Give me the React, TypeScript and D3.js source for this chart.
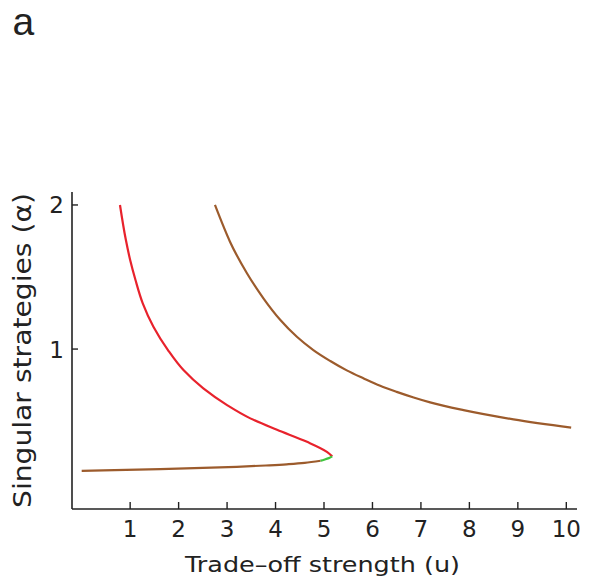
import React from "react";
import * as d3 from "d3";

const xTicks = [1, 2, 3, 4, 5, 6, 7, 8, 9, 10];
const yTicks = [1, 2];

// Upper unstable branch (red), from top down to the fold
const redU = [0.79, 0.91, 1.0, 1.11, 1.26, 1.48, 1.78, 2.1, 2.51, 3.0, 3.48, 4.03, 4.65, 5.06, 5.17];
const redA = [2.0, 1.76, 1.618, 1.479, 1.317, 1.155, 0.993, 0.854, 0.727, 0.611, 0.519, 0.44, 0.356, 0.287, 0.255];

// Short green piece just below the fold
const greenU = [5.17, 5.1, 5.0, 4.93];
const greenA = [0.255, 0.243, 0.232, 0.225];

// Lower brown branch
const lowU = [0.0, 1.62, 2.5, 3.2, 3.8, 4.23, 4.6, 4.93];
const lowA = [0.155, 0.167, 0.175, 0.183, 0.192, 0.2, 0.21, 0.225];

// Right brown branch
const upU = [2.75, 3.06, 3.41, 3.75, 4.1, 4.44, 4.78, 5.13, 5.47, 5.82, 6.16, 6.5, 6.85, 7.19, 7.88, 8.91, 10.1];
const upA = [2.0, 1.745, 1.526, 1.352, 1.201, 1.085, 0.993, 0.917, 0.852, 0.796, 0.745, 0.703, 0.664, 0.63, 0.576, 0.512, 0.455];

const W = 591;
const H = 586;

export default function App() {
  const x = d3.scaleLinear().domain([-0.2, 10.2]).range([72, 576]);
  const y = d3.scaleLinear().domain([-0.11, 2.09]).range([509, 192]);

  const lineX = d3
    .line<[number, number]>()
    .x((d) => x(d[0]))
    .y((d) => y(d[1]))
    .curve(d3.curveMonotoneX);
  const lineY = d3
    .line<[number, number]>()
    .x((d) => x(d[0]))
    .y((d) => y(d[1]))
    .curve(d3.curveMonotoneY);

  const pts = (us: number[], as: number[]) => us.map((u, i) => [u, as[i]] as [number, number]);

  const brown = "#9c5b2c";
  const red = "#e8222c";
  const green = "#3ec63e";
  const axisColor = "#222";
  const font = "DejaVu Sans, sans-serif";

  return (
    <svg width={W} height={H} style={{ position: "absolute", left: 0, top: 0, background: "#fff" }}>
      <rect width={W} height={H} fill="#fff" />
      <text x={12.5} y={35} fontFamily="Liberation Sans, Arial, sans-serif" fontSize={39} fill="#222">
        a
      </text>

      {/* axes */}
      <line x1={72} x2={72} y1={192} y2={509} stroke={axisColor} strokeWidth={1.6} />
      <line x1={72} x2={577} y1={509} y2={509} stroke={axisColor} strokeWidth={1.6} />

      {xTicks.map((t) => (
        <g key={"xt" + t}>
          <line x1={x(t)} x2={x(t)} y1={509} y2={502} stroke={axisColor} strokeWidth={1.4} />
          <text x={x(t)} y={537} textAnchor="middle" fontFamily={font} fontSize={23} fill="#222">
            {t}
          </text>
        </g>
      ))}
      {yTicks.map((t) => (
        <g key={"yt" + t}>
          <line x1={72} x2={78} y1={y(t)} y2={y(t)} stroke={axisColor} strokeWidth={1.4} />
          <text x={64} y={y(t) + 8.5} textAnchor="end" fontFamily={font} fontSize={23} fill="#222">
            {t}
          </text>
        </g>
      ))}

      <text
        x={322.5}
        y={572}
        textAnchor="middle"
        fontFamily={font}
        fontSize={22}
        fill="#222"
        textLength={275}
        lengthAdjust="spacingAndGlyphs"
      >
        Trade–off strength (u)
      </text>
      <text
        transform={`translate(31,350.5) rotate(-90)`}
        textAnchor="middle"
        fontFamily={font}
        fontSize={24}
        fill="#222"
        textLength={315}
        lengthAdjust="spacingAndGlyphs"
      >
        Singular strategies (α)
      </text>

      {/* curves */}
      <path d={lineX(pts(upU, upA)) || ""} fill="none" stroke={brown} strokeWidth={2.2} />
      <path d={lineX(pts(lowU, lowA)) || ""} fill="none" stroke={brown} strokeWidth={2.2} />
      <path d={lineY(pts(redU, redA)) || ""} fill="none" stroke={red} strokeWidth={2.2} />
      <path d={lineY(pts(greenU, greenA)) || ""} fill="none" stroke={green} strokeWidth={2.2} />
    </svg>
  );
}
